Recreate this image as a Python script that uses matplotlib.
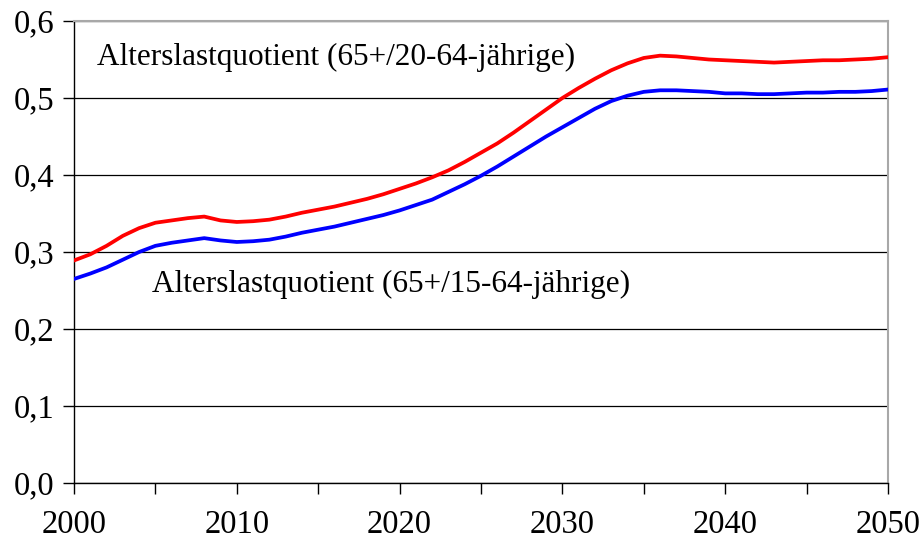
import matplotlib
matplotlib.use("Agg")
import matplotlib.pyplot as plt
from matplotlib.ticker import MultipleLocator, FuncFormatter

years = list(range(2000, 2051))
ratio_20_64 = [0.289, 0.297, 0.308, 0.321, 0.331, 0.338, 0.341, 0.344, 0.346, 0.341,
               0.339, 0.340, 0.342, 0.346, 0.351, 0.355, 0.359, 0.364, 0.369, 0.375,
               0.382, 0.389, 0.397, 0.406, 0.417, 0.429, 0.441, 0.455, 0.470, 0.485,
               0.500, 0.513, 0.525, 0.536, 0.545, 0.552, 0.555, 0.554, 0.552, 0.550,
               0.549, 0.548, 0.547, 0.546, 0.547, 0.548, 0.549, 0.549, 0.550, 0.551,
               0.553]
ratio_15_64 = [0.265, 0.272, 0.280, 0.290, 0.300, 0.308, 0.312, 0.315, 0.318, 0.315,
               0.313, 0.314, 0.316, 0.320, 0.325, 0.329, 0.333, 0.338, 0.343, 0.348,
               0.354, 0.361, 0.368, 0.378, 0.388, 0.399, 0.411, 0.424, 0.437, 0.450,
               0.462, 0.474, 0.486, 0.496, 0.503, 0.508, 0.510, 0.510, 0.509, 0.508,
               0.506, 0.506, 0.505, 0.505, 0.506, 0.507, 0.507, 0.508, 0.508, 0.509,
               0.511]
label_20_64 = "Alterslastquotient (65+/20-64-jährige)"
label_15_64 = "Alterslastquotient (65+/15-64-jährige)"

plt.rcParams['font.family'] = ['Liberation Serif', 'DejaVu Serif']

fig = plt.figure(figsize=(9.24, 5.45), dpi=100)
ax = fig.add_axes([74/924, 62/545, 814/924, 462/545])

ax.set_xlim(2000, 2050)
ax.set_ylim(0, 0.6)

ax.yaxis.set_major_locator(MultipleLocator(0.1))
ax.xaxis.set_major_locator(MultipleLocator(10))
ax.xaxis.set_minor_locator(MultipleLocator(5))
ax.yaxis.set_major_formatter(FuncFormatter(lambda v, p: f"{v:.1f}".replace('.', ',')))
ax.grid(axis='y', color='black', linewidth=0.9, zorder=1)

ax.plot(years, ratio_20_64, color='#ff0000', linewidth=2.7, zorder=3, solid_joinstyle='round')
ax.plot(years, ratio_15_64, color='#0000ff', linewidth=2.7, zorder=3, solid_joinstyle='round')

ax.text(2001.4, 0.553, label_20_64, fontsize=22.5, va='center', ha='left')
ax.text(2004.8, 0.258, label_15_64, fontsize=22.5, va='center', ha='left')

for s in ['left', 'bottom']:
    ax.spines[s].set_color('black')
    ax.spines[s].set_linewidth(1.0)
for s in ['top', 'right']:
    ax.spines[s].set_color('#a8a8a8')
    ax.spines[s].set_linewidth(1.5)

ax.tick_params(axis='both', which='both', direction='out', color='black', width=1.0)
ax.tick_params(axis='x', which='major', length=8, pad=11, labelsize=23.5)
ax.tick_params(axis='x', which='minor', length=8)
ax.tick_params(axis='y', which='major', length=8, pad=6, labelsize=23.5)

fig.savefig("out.png", dpi=100)
